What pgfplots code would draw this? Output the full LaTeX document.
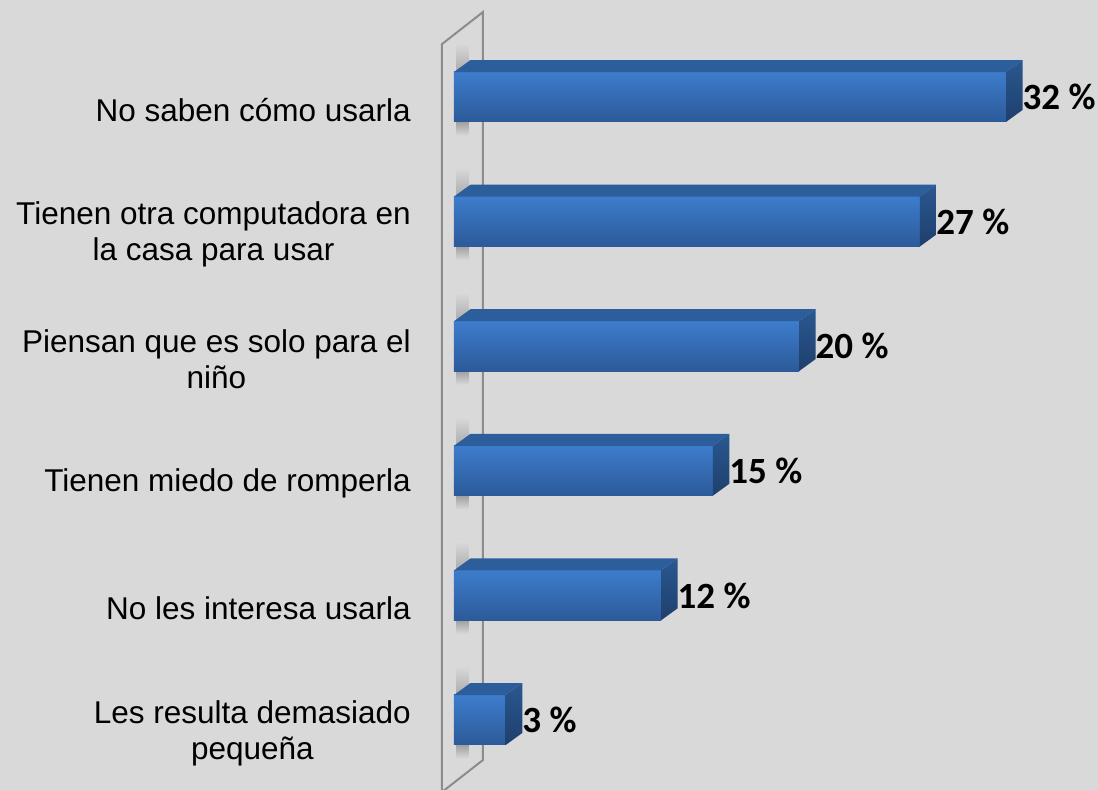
\documentclass[border=0pt]{standalone}
\usepackage{pgfplots}
\pgfplotsset{compat=1.18}
\usepackage{pgfplotstable}
\usepackage{fontspec}
\setmainfont{Liberation Sans}
\newfontfamily\calibri{Carlito}
\definecolor{bg}{HTML}{D9D9D9}
\definecolor{shad}{HTML}{A0A0A0}
\definecolor{fronttop}{HTML}{3D7CCC}
\definecolor{frontbot}{HTML}{2C5A99}
\definecolor{topface}{HTML}{2D5E9C}
\definecolor{sidetop}{HTML}{2A5891}
\definecolor{sidebot}{HTML}{1F3F6C}
\definecolor{wallc}{HTML}{8C8C8C}

\pgfplotstableread{
pos value
0 3
1 12
2 15
3 20
4 27
5 32
}\datatable

\newcommand\bdx{0.957}
\newcommand\bdy{0.0963}
\newcommand\bhw{0.2006}
\newcommand\barshadow[1]{%
 \pgfmathsetmacro\sa{#1+0.15}%
 \pgfmathsetmacro\sb{#1+0.43}%
 \pgfmathsetmacro\sc{#1-0.2}%
 \pgfmathsetmacro\sd{#1-0.31}%
 \edef\temp{%
 \noexpand\addplot[top color=bg, bottom color=shad, draw=none, forget plot] coordinates {(0.15,\sa) (0.85,\sa) (0.85,\sb) (0.15,\sb)} -- cycle;%
 \noexpand\addplot[top color=shad, bottom color=bg, draw=none, forget plot] coordinates {(0.15,\sd) (0.85,\sd) (0.85,\sc) (0.15,\sc)} -- cycle;%
 }\temp}
\newcommand\barfaces[2]{%
 \pgfmathsetmacro\xa{#1+\bdx}%
 \pgfmathsetmacro\ya{#2+\bhw}%
 \pgfmathsetmacro\yb{#2-\bhw}%
 \pgfmathsetmacro\yc{#2+\bhw+\bdy}%
 \pgfmathsetmacro\yd{#2-\bhw+\bdy}%
 \edef\temp{%
 \noexpand\addplot[fill=topface, draw=none, forget plot] coordinates {(0,\ya) (#1,\ya) (\xa,\yc) (\bdx,\yc)} -- cycle;%
 \noexpand\addplot[top color=sidetop, bottom color=sidebot, draw=none, forget plot] coordinates {(#1,\yb) (#1,\ya) (\xa,\yc) (\xa,\yd)} -- cycle;%
 }\temp}

\begin{document}
\begin{tikzpicture}
\fill[bg] (0,0) rectangle (1098pt,790pt);
\useasboundingbox (0,0) rectangle (1098pt,790pt);
\begin{axis}[
 at={(454pt,7.7pt)}, anchor=south west,
 scale only axis, width=552pt, height=747.6pt,
 xmin=0, xmax=32, ymin=-0.5, ymax=5.5,
 clip=false,
 axis line style={draw=none},
 xtick=\empty,
 ytick={0,1,2,3,4,5},
 yticklabels={{Les resulta demasiado\\pequeña},{No les interesa usarla},{Tienen miedo de romperla},{Piensan que es solo para el\\niño},{Tienen otra computadora en\\la casa para usar},{No saben cómo usarla}},
 major tick length=0pt,
 yticklabel style={inner sep=0pt, xshift=-43pt, yshift=-13pt, anchor=east, align=center, font=\fontsize{31.5}{36}\selectfont},
]
\addplot[wallc, line width=2pt, forget plot] coordinates {(-0.696,-0.578) (-0.696,5.425) (1.681,5.682) (1.681,-0.321) (-0.696,-0.578)};
\barshadow{0}
\barshadow{1}
\barshadow{2}
\barshadow{3}
\barshadow{4}
\barshadow{5}
\pgfplotsinvokeforeach{0,...,5}{
\addplot[xbar, bar width=50pt, bar shift=0pt, draw=none, top color=fronttop, bottom color=frontbot,
 restrict y to domain=#1:#1,
 point meta=x,
 nodes near coords={\pgfmathprintnumber[assume math mode=true]{\pgfplotspointmeta}\ \%},
 nodes near coords style={anchor=west, xshift=16.5pt, inner sep=0pt, font=\calibri\bfseries\fontsize{37}{40}\selectfont, black}]
 table[x=value, y=pos]{\datatable};
}
\barfaces{3}{0}
\barfaces{12}{1}
\barfaces{15}{2}
\barfaces{20}{3}
\barfaces{27}{4}
\barfaces{32}{5}
\end{axis}
\end{tikzpicture}
\end{document}
